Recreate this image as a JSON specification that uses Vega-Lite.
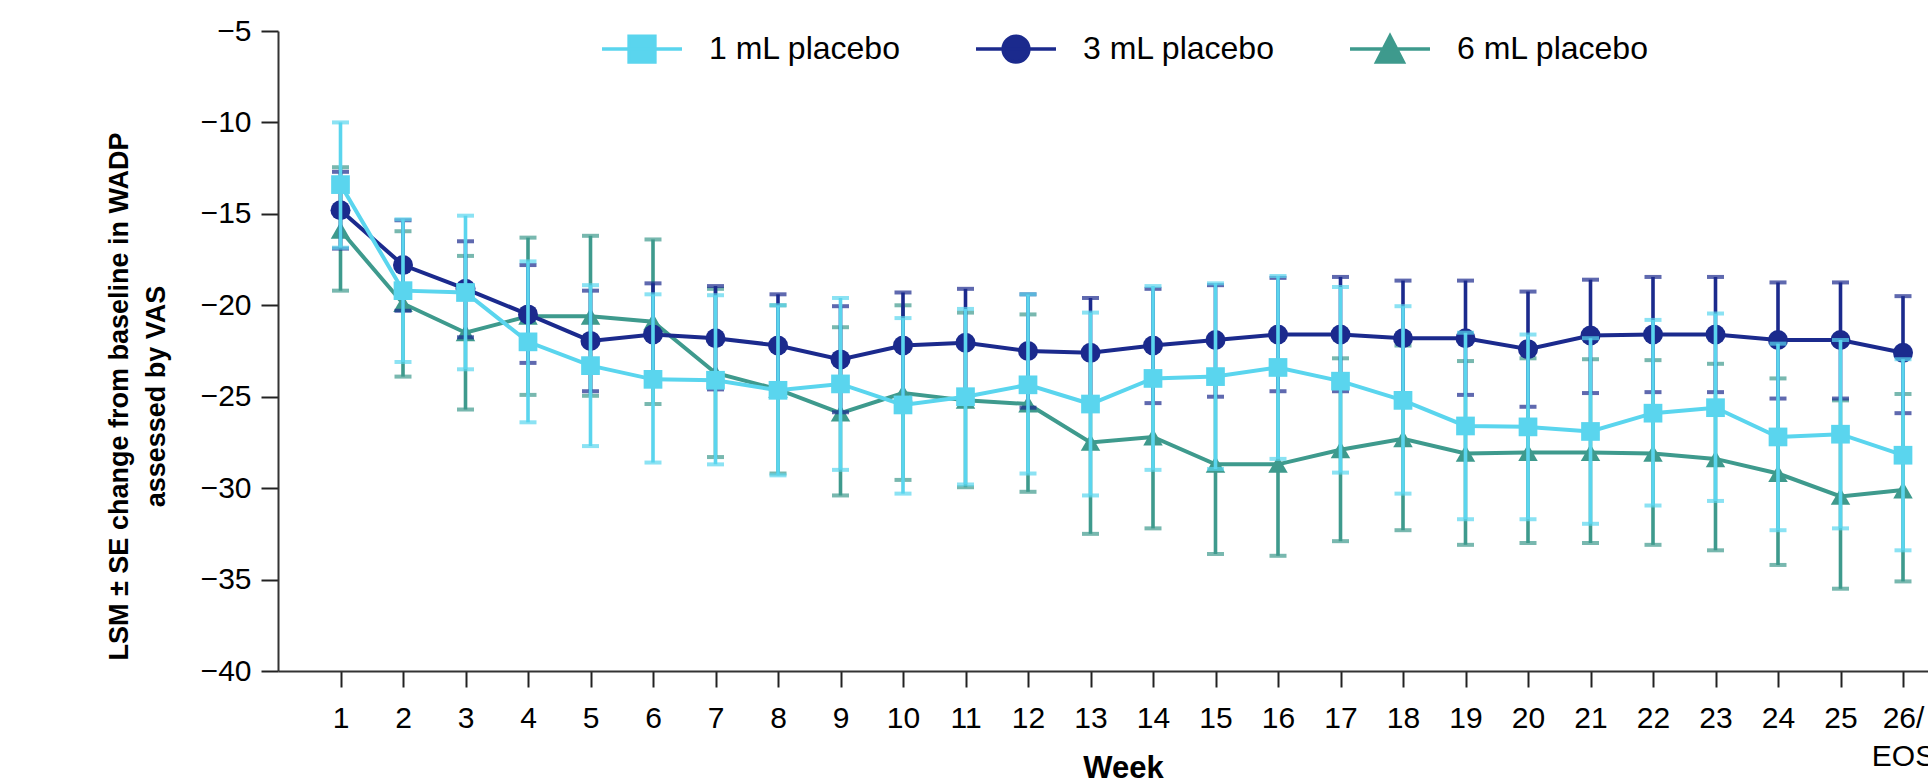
{
  "$schema": "https://vega.github.io/schema/vega-lite/v6.json",
  "width": 1650,
  "height": 640,
  "autosize": {"type": "none"},
  "padding": {"left": 278, "top": 31, "right": 0, "bottom": 112},
  "background": "white",
  "config": {"view": {"stroke": null}, "font": "Liberation Sans", "axis": {"grid": false}},
  "data": {"values": [
    {"week":1,"series":"1 mL placebo","mean":-13.4,"lo":-16.85,"hi":-10.0},
    {"week":2,"series":"1 mL placebo","mean":-19.2,"lo":-23.1,"hi":-15.3},
    {"week":3,"series":"1 mL placebo","mean":-19.3,"lo":-23.5,"hi":-15.1},
    {"week":4,"series":"1 mL placebo","mean":-22.0,"lo":-26.4,"hi":-17.6},
    {"week":5,"series":"1 mL placebo","mean":-23.3,"lo":-27.7,"hi":-18.9},
    {"week":6,"series":"1 mL placebo","mean":-24.05,"lo":-28.6,"hi":-19.4},
    {"week":7,"series":"1 mL placebo","mean":-24.1,"lo":-28.7,"hi":-19.45},
    {"week":8,"series":"1 mL placebo","mean":-24.65,"lo":-29.3,"hi":-20.0},
    {"week":9,"series":"1 mL placebo","mean":-24.3,"lo":-29.0,"hi":-19.6},
    {"week":10,"series":"1 mL placebo","mean":-25.45,"lo":-30.3,"hi":-20.7},
    {"week":11,"series":"1 mL placebo","mean":-25.0,"lo":-29.8,"hi":-20.2},
    {"week":12,"series":"1 mL placebo","mean":-24.35,"lo":-29.2,"hi":-19.4},
    {"week":13,"series":"1 mL placebo","mean":-25.4,"lo":-30.4,"hi":-20.4},
    {"week":14,"series":"1 mL placebo","mean":-24.0,"lo":-29.0,"hi":-18.95},
    {"week":15,"series":"1 mL placebo","mean":-23.9,"lo":-28.95,"hi":-18.8},
    {"week":16,"series":"1 mL placebo","mean":-23.4,"lo":-28.4,"hi":-18.4},
    {"week":17,"series":"1 mL placebo","mean":-24.15,"lo":-29.15,"hi":-19.0},
    {"week":18,"series":"1 mL placebo","mean":-25.2,"lo":-30.3,"hi":-20.05},
    {"week":19,"series":"1 mL placebo","mean":-26.6,"lo":-31.7,"hi":-21.5},
    {"week":20,"series":"1 mL placebo","mean":-26.65,"lo":-31.7,"hi":-21.6},
    {"week":21,"series":"1 mL placebo","mean":-26.9,"lo":-31.95,"hi":-21.8},
    {"week":22,"series":"1 mL placebo","mean":-25.9,"lo":-30.95,"hi":-20.8},
    {"week":23,"series":"1 mL placebo","mean":-25.6,"lo":-30.7,"hi":-20.45},
    {"week":24,"series":"1 mL placebo","mean":-27.2,"lo":-32.3,"hi":-22.1},
    {"week":25,"series":"1 mL placebo","mean":-27.05,"lo":-32.2,"hi":-21.9},
    {"week":26,"series":"1 mL placebo","mean":-28.2,"lo":-33.4,"hi":-22.95},
    {"week":1,"series":"3 mL placebo","mean":-14.8,"lo":-16.9,"hi":-12.7},
    {"week":2,"series":"3 mL placebo","mean":-17.8,"lo":-20.3,"hi":-15.35},
    {"week":3,"series":"3 mL placebo","mean":-19.1,"lo":-21.75,"hi":-16.5},
    {"week":4,"series":"3 mL placebo","mean":-20.5,"lo":-23.15,"hi":-17.8},
    {"week":5,"series":"3 mL placebo","mean":-21.95,"lo":-24.7,"hi":-19.2},
    {"week":6,"series":"3 mL placebo","mean":-21.6,"lo":-24.4,"hi":-18.8},
    {"week":7,"series":"3 mL placebo","mean":-21.8,"lo":-24.6,"hi":-18.95},
    {"week":8,"series":"3 mL placebo","mean":-22.2,"lo":-25.0,"hi":-19.4},
    {"week":9,"series":"3 mL placebo","mean":-22.96,"lo":-25.85,"hi":-20.05},
    {"week":10,"series":"3 mL placebo","mean":-22.2,"lo":-25.1,"hi":-19.3},
    {"week":11,"series":"3 mL placebo","mean":-22.05,"lo":-25.0,"hi":-19.1},
    {"week":12,"series":"3 mL placebo","mean":-22.5,"lo":-25.6,"hi":-19.4},
    {"week":13,"series":"3 mL placebo","mean":-22.6,"lo":-25.6,"hi":-19.6},
    {"week":14,"series":"3 mL placebo","mean":-22.2,"lo":-25.35,"hi":-19.1},
    {"week":15,"series":"3 mL placebo","mean":-21.9,"lo":-25.0,"hi":-18.9},
    {"week":16,"series":"3 mL placebo","mean":-21.6,"lo":-24.7,"hi":-18.5},
    {"week":17,"series":"3 mL placebo","mean":-21.6,"lo":-24.7,"hi":-18.45},
    {"week":18,"series":"3 mL placebo","mean":-21.8,"lo":-24.95,"hi":-18.65},
    {"week":19,"series":"3 mL placebo","mean":-21.8,"lo":-24.9,"hi":-18.65},
    {"week":20,"series":"3 mL placebo","mean":-22.4,"lo":-25.55,"hi":-19.25},
    {"week":21,"series":"3 mL placebo","mean":-21.65,"lo":-24.8,"hi":-18.6},
    {"week":22,"series":"3 mL placebo","mean":-21.6,"lo":-24.75,"hi":-18.45},
    {"week":23,"series":"3 mL placebo","mean":-21.6,"lo":-24.75,"hi":-18.45},
    {"week":24,"series":"3 mL placebo","mean":-21.9,"lo":-25.1,"hi":-18.75},
    {"week":25,"series":"3 mL placebo","mean":-21.9,"lo":-25.1,"hi":-18.75},
    {"week":26,"series":"3 mL placebo","mean":-22.6,"lo":-25.9,"hi":-19.5},
    {"week":1,"series":"6 mL placebo","mean":-15.9,"lo":-19.2,"hi":-12.45},
    {"week":2,"series":"6 mL placebo","mean":-19.9,"lo":-23.9,"hi":-15.95},
    {"week":3,"series":"6 mL placebo","mean":-21.5,"lo":-25.7,"hi":-17.3},
    {"week":4,"series":"6 mL placebo","mean":-20.6,"lo":-24.9,"hi":-16.3},
    {"week":5,"series":"6 mL placebo","mean":-20.6,"lo":-24.95,"hi":-16.2},
    {"week":6,"series":"6 mL placebo","mean":-20.9,"lo":-25.4,"hi":-16.4},
    {"week":7,"series":"6 mL placebo","mean":-23.7,"lo":-28.3,"hi":-19.1},
    {"week":8,"series":"6 mL placebo","mean":-24.6,"lo":-29.2,"hi":-20.0},
    {"week":9,"series":"6 mL placebo","mean":-25.9,"lo":-30.4,"hi":-21.2},
    {"week":10,"series":"6 mL placebo","mean":-24.8,"lo":-29.55,"hi":-20.0},
    {"week":11,"series":"6 mL placebo","mean":-25.2,"lo":-29.95,"hi":-20.4},
    {"week":12,"series":"6 mL placebo","mean":-25.4,"lo":-30.2,"hi":-20.5},
    {"week":13,"series":"6 mL placebo","mean":-27.5,"lo":-32.5,"hi":-22.5},
    {"week":14,"series":"6 mL placebo","mean":-27.2,"lo":-32.2,"hi":-22.2},
    {"week":15,"series":"6 mL placebo","mean":-28.7,"lo":-33.6,"hi":-23.8},
    {"week":16,"series":"6 mL placebo","mean":-28.7,"lo":-33.7,"hi":-23.7},
    {"week":17,"series":"6 mL placebo","mean":-27.9,"lo":-32.9,"hi":-22.9},
    {"week":18,"series":"6 mL placebo","mean":-27.3,"lo":-32.3,"hi":-22.2},
    {"week":19,"series":"6 mL placebo","mean":-28.1,"lo":-33.1,"hi":-23.05},
    {"week":20,"series":"6 mL placebo","mean":-28.05,"lo":-33.0,"hi":-22.9},
    {"week":21,"series":"6 mL placebo","mean":-28.05,"lo":-33.0,"hi":-22.95},
    {"week":22,"series":"6 mL placebo","mean":-28.1,"lo":-33.1,"hi":-23.0},
    {"week":23,"series":"6 mL placebo","mean":-28.4,"lo":-33.4,"hi":-23.2},
    {"week":24,"series":"6 mL placebo","mean":-29.2,"lo":-34.2,"hi":-24.0},
    {"week":25,"series":"6 mL placebo","mean":-30.45,"lo":-35.5,"hi":-25.2},
    {"week":26,"series":"6 mL placebo","mean":-30.1,"lo":-35.1,"hi":-24.85}
  ]},
  "encoding": {
    "x": {"field": "week", "type": "quantitative",
      "scale": {"domain": [0, 26.4], "nice": false, "zero": false},
      "axis": {"values": [1,2,3,4,5,6,7,8,9,10,11,12,13,14,15,16,17,18,19,20,21,22,23,24,25,26],
        "labelExpr": "datum.value == 26 ? ['26/', 'EOS'] : datum.label",
        "title": "Week", "titleFont": "Liberation Sans", "titleFontSize": 31, "titleFontWeight": "bold", "titleColor": "#000",
        "titleX": 845, "titleY": 106, "titleAlign": "center", "titleBaseline": "alphabetic",
        "labelFont": "Liberation Sans", "labelFontSize": 30, "labelColor": "#000", "labelBaseline": "alphabetic",
        "labelPadding": 40, "labelLineHeight": 38, "labelFlush": false, "labelOverlap": false, "labelBound": false,
        "tickSize": 16, "tickWidth": 2, "tickColor": "#222", "domainColor": "#333", "domainWidth": 2, "grid": false}},
    "y": {"field": "mean", "type": "quantitative",
      "scale": {"domain": [-40, -5], "nice": false, "zero": false},
      "axis": {"values": [-40,-35,-30,-25,-20,-15,-10,-5],
        "title": ["LSM ± SE change from baseline in WADP", "assessed by VAS"],
        "titleFont": "Liberation Sans", "titleFontSize": 27, "titleFontWeight": "bold", "titleColor": "#000",
        "titleAngle": -90, "titleAlign": "center", "titleBaseline": "middle", "titleLineHeight": 37,
        "titleX": -159, "titleY": 365,
        "labelFont": "Liberation Sans", "labelFontSize": 30, "labelColor": "#000", "labelPadding": 10,
        "tickSize": 17, "tickWidth": 2, "tickColor": "#222", "domainColor": "#333", "domainWidth": 2, "grid": false, "labelOverlap": false}},
    "color": {"field": "series", "type": "nominal",
      "scale": {"domain": ["1 mL placebo", "3 mL placebo", "6 mL placebo"], "range": ["#5AD5EE", "#1B2A8D", "#3E9A8D"]},
      "legend": {"orient": "none", "legendX": 319, "legendY": -27, "direction": "horizontal", "title": null,
        "labelFont": "Liberation Sans", "labelFontSize": 32, "labelColor": "#000", "labelOffset": 22, "columnPadding": 67, "labelLimit": 0,
        "symbolSize": 7396, "padding": 0,
        "encode": {"symbols": {"update": {
          "shape": {"signal": "datum.value === '1 mL placebo' ? 'M-0.93,0H0.93M-0.3,-0.3H0.3V0.3H-0.3Z' : datum.value === '3 mL placebo' ? 'M-0.93,0H0.93M-0.3,0A0.3,0.3 0 1,0 0.3,0A0.3,0.3 0 1,0 -0.3,0Z' : 'M-0.93,0H0.93M0,-0.3L0.31,0.3H-0.31Z'"},
          "fill": {"signal": "scale('color', datum.value)"},
          "stroke": {"signal": "scale('color', datum.value)"},
          "strokeWidth": {"value": 3.5},
          "size": {"value": 7396},
          "opacity": {"value": 1}
        }}}}}
  },
  "layer": [
    {"transform": [{"filter": "datum.series === '6 mL placebo'"}],
     "layer": [
       {"mark": {"type": "errorbar", "thickness": 3.6, "ticks": {"size": 17, "thickness": 4}},
        "encoding": {"y": {"field": "lo", "type": "quantitative", "scale": {"domain": [-40, -5], "nice": false, "zero": false}, "axis": {"values": [-40,-35,-30,-25,-20,-15,-10,-5],
        "title": ["LSM ± SE change from baseline in WADP", "assessed by VAS"],
        "titleFont": "Liberation Sans", "titleFontSize": 27, "titleFontWeight": "bold", "titleColor": "#000",
        "titleAngle": -90, "titleAlign": "center", "titleBaseline": "middle", "titleLineHeight": 37,
        "titleX": -159, "titleY": 365,
        "labelFont": "Liberation Sans", "labelFontSize": 30, "labelColor": "#000", "labelPadding": 10,
        "tickSize": 17, "tickWidth": 2, "tickColor": "#222", "domainColor": "#333", "domainWidth": 2, "grid": false, "labelOverlap": false}}, "y2": {"field": "hi"}}},
       {"mark": {"type": "line", "strokeWidth": 4}},
       {"mark": {"type": "point", "filled": true, "opacity": 1, "size": 380, "shape": "triangle-up"}}
     ]},
    {"transform": [{"filter": "datum.series === '3 mL placebo'"}],
     "layer": [
       {"mark": {"type": "errorbar", "thickness": 3.6, "ticks": {"size": 17, "thickness": 4}},
        "encoding": {"y": {"field": "lo", "type": "quantitative", "scale": {"domain": [-40, -5], "nice": false, "zero": false}, "axis": {"values": [-40,-35,-30,-25,-20,-15,-10,-5],
        "title": ["LSM ± SE change from baseline in WADP", "assessed by VAS"],
        "titleFont": "Liberation Sans", "titleFontSize": 27, "titleFontWeight": "bold", "titleColor": "#000",
        "titleAngle": -90, "titleAlign": "center", "titleBaseline": "middle", "titleLineHeight": 37,
        "titleX": -159, "titleY": 365,
        "labelFont": "Liberation Sans", "labelFontSize": 30, "labelColor": "#000", "labelPadding": 10,
        "tickSize": 17, "tickWidth": 2, "tickColor": "#222", "domainColor": "#333", "domainWidth": 2, "grid": false, "labelOverlap": false}}, "y2": {"field": "hi"}}},
       {"mark": {"type": "line", "strokeWidth": 4}},
       {"mark": {"type": "point", "filled": true, "opacity": 1, "size": 400, "shape": "circle"}}
     ]},
    {"transform": [{"filter": "datum.series === '1 mL placebo'"}],
     "layer": [
       {"mark": {"type": "errorbar", "thickness": 3.6, "ticks": {"size": 17, "thickness": 4}},
        "encoding": {"y": {"field": "lo", "type": "quantitative", "scale": {"domain": [-40, -5], "nice": false, "zero": false}, "axis": {"values": [-40,-35,-30,-25,-20,-15,-10,-5],
        "title": ["LSM ± SE change from baseline in WADP", "assessed by VAS"],
        "titleFont": "Liberation Sans", "titleFontSize": 27, "titleFontWeight": "bold", "titleColor": "#000",
        "titleAngle": -90, "titleAlign": "center", "titleBaseline": "middle", "titleLineHeight": 37,
        "titleX": -159, "titleY": 365,
        "labelFont": "Liberation Sans", "labelFontSize": 30, "labelColor": "#000", "labelPadding": 10,
        "tickSize": 17, "tickWidth": 2, "tickColor": "#222", "domainColor": "#333", "domainWidth": 2, "grid": false, "labelOverlap": false}}, "y2": {"field": "hi"}}},
       {"mark": {"type": "line", "strokeWidth": 4}},
       {"mark": {"type": "point", "filled": true, "opacity": 1, "size": 350, "shape": "square"}}
     ]}
  ]
}
